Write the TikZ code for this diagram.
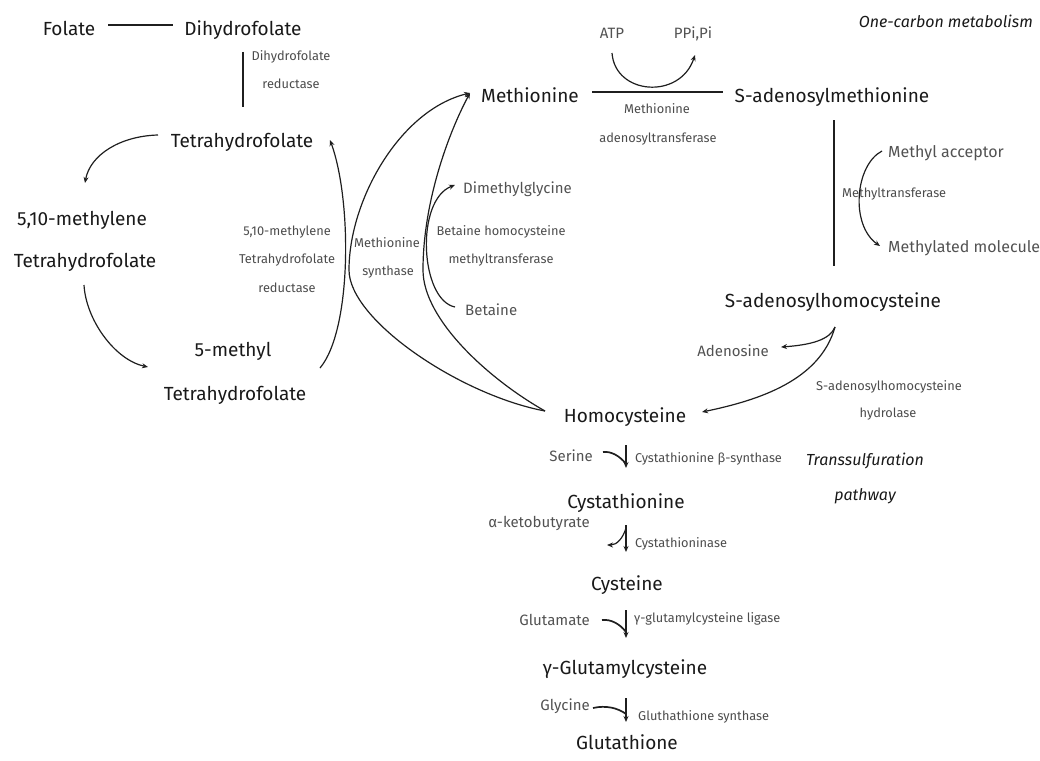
\documentclass[tikz,border=0pt]{standalone}
\usepackage{fontspec}
\setmainfont{Fira Sans}
\usetikzlibrary{arrows.meta}
\tikzset{
  every node/.style={inner sep=0pt, anchor=base},
  main/.style={font=\fontsize{19}{22}\selectfont, text=black!90},
  sub/.style={font=\fontsize{15}{18}\selectfont, text=black!68},
  subl/.style={font=\fontsize{16}{18}\selectfont, text=black!68},
  enz/.style={font=\fontsize{12.8}{14}\selectfont, text=black!70},
  note/.style={font=\itshape\fontsize{16}{18}\selectfont, text=black!90},
  conn/.style={draw=black!88, line width=1.2pt},
  arr/.style={conn, -{Stealth[length=6pt,width=5pt]}},
  branch/.style={draw=black!88, line width=1.7pt},
}
\begin{document}
\begin{tikzpicture}[x=1pt,y=-1pt]
\useasboundingbox (0,0) rectangle (1040,760);
% ---------------- folate cycle
\node[main] (fol) at (69,36) {Folate};
\node[main] (dhf) at (243,36) {Dihydrofolate};
\node[enz] (dhfr1) at (291,60) {Dihydrofolate};
\node[enz] (dhfr2) at (291,88) {reductase};
\node[main] (thf) at (242,147) {Tetrahydrofolate};
\node[main] (mla) at (82,225) {5,10-methylene};
\node[main] (mlb) at (85,267) {Tetrahydrofolate};
\node[main] (mta) at (233,356) {5-methyl};
\node[main] (mtb) at (235,400) {Tetrahydrofolate};
\node[enz] (mthfr1) at (287,235) {5,10-methylene};
\node[enz] (mthfr2) at (287,263) {Tetrahydrofolate};
\node[enz] (mthfr3) at (287,292) {reductase};
\node[enz] (ms1) at (387,247) {Methionine};
\node[enz] (ms2) at (388,275) {synthase};
% ---------------- methionine cycle
\node[sub, anchor=base west] (dmg) at (463,193) {Dimethylglycine};
\node[enz] (bhmt1) at (501,235) {Betaine homocysteine};
\node[enz] (bhmt2) at (501,263) {methyltransferase};
\node[sub, anchor=base west] (bet) at (465,315) {Betaine};
\node[main] (met) at (530,102) {Methionine};
\node[sub] (atp) at (612,38) {ATP};
\node[sub] (ppi) at (693,38) {PPi,Pi};
\node[enz] (mat1) at (657,113) {Methionine};
\node[enz] (mat2) at (658,142) {adenosyltransferase};
\node[main] (sam) at (832,102) {S-adenosylmethionine};
\node[note, anchor=base east] (title) at (1033,28) {One-carbon metabolism};
\node[subl, anchor=base west] (macc) at (888,157) {Methyl acceptor};
\node[enz, anchor=base west] (mt) at (842,197) {Methyltransferase};
\node[subl, anchor=base west] (mmol) at (888,252) {Methylated molecule};
\node[main] (sah) at (833,307) {S-adenosylhomocysteine};
\node[sub, anchor=base east] (ado) at (769,356) {Adenosine};
\node[enz] (sahh1) at (889,390) {S-adenosylhomocysteine};
\node[enz] (sahh2) at (888,417) {hydrolase};
\node[main] (hcy) at (625,422) {Homocysteine};
% ---------------- transsulfuration
\node[sub, anchor=base east] (ser) at (593,461) {Serine};
\node[enz, anchor=base west] (cbs) at (635,462) {Cystathionine β-synthase};
\node[note] (ts1) at (865,465) {Transsulfuration};
\node[note] (ts2) at (865,500) {pathway};
\node[main] (cysta) at (626,508) {Cystathionine};
\node[sub, anchor=base east] (akb) at (590,527) {α-ketobutyrate};
\node[enz, anchor=base west] (cgl) at (635,547) {Cystathioninase};
\node[main] (cys) at (627,590) {Cysteine};
\node[sub, anchor=base east] (glu) at (590,625) {Glutamate};
\node[enz, anchor=base west] (gcl) at (634,622) {γ-glutamylcysteine ligase};
\node[main] (gglu) at (625,674) {γ-Glutamylcysteine};
\node[sub, anchor=base east] (gly) at (590,710) {Glycine};
\node[enz, anchor=base west] (gs) at (638,720) {Gluthathione synthase};
\node[main] (gsh) at (627,749) {Glutathione};
% ---------------- connectors
\draw[conn] ([shift={(39,-11)}]fol.base) -- ([shift={(-70,-11)}]dhf.base);
\draw[conn] ([shift={(0,16)}]dhf.base) -- ([shift={(1,-40)}]thf.base);
\draw[arr] ([shift={(-84,-12)}]thf.base) .. controls (120,136) and (90,155) .. ([shift={(3,-42)}]mla.base);
\draw[arr] ([shift={(-1,18)}]mlb.base) .. controls (86,320) and (115,360) .. ([shift={(-85,11)}]mta.base);
\draw[arr] ([shift={(87,12)}]mta.base) .. controls (352,330) and (352,200) .. ([shift={(88,-7)}]thf.base);
% methionine synthase and BHMT
\draw[arr] ([shift={(-80,-11)}]hcy.base) .. controls (460,395) and (349,320) .. (349,270)
   .. controls (349,200) and (400,110) .. ([shift={(-60,-9)}]met.base);
\draw[arr] ([shift={(-80,-11)}]hcy.base) .. controls (490,380) and (423,320) .. (423,270)
   .. controls (423,200) and (450,130) .. ([shift={(-60,-9)}]met.base);
\draw[arr] ([shift={(-10,-8)}]bet.base west) .. controls (420,300) and (415,200) .. ([shift={(-8,-8)}]dmg.base west);
% MAT
\draw[conn] ([shift={(62,-10)}]met.base) -- ([shift={(-109,-10)}]sam.base);
\draw[arr] ([shift={(0,15)}]atp.base) .. controls (615,95) and (680,100) .. ([shift={(2,17)}]ppi.base);
% methyltransferase
\draw[conn] ([shift={(2,18)}]sam.base) -- ([shift={(1,-41)}]sah.base);
\draw[arr] ([shift={(-6,-6)}]macc.base west) .. controls (855,165) and (850,225) .. ([shift={(-8,-6)}]mmol.base west);
% SAH hydrolase
\draw[arr] ([shift={(2,20)}]sah.base) .. controls (830,340) and (810,345) .. ([shift={(12,-9)}]ado.base east);
\draw[arr] ([shift={(2,20)}]sah.base) .. controls (820,380) and (760,400) .. ([shift={(77,-10)}]hcy.base);
% transsulfuration
\draw[arr] ([shift={(1,23)}]hcy.base) -- ([shift={(0,-40)}]cysta.base);
\draw[branch] ([shift={(10,-9)}]ser.base east) .. controls (611,451) and (620,456) .. ([shift={(0,-44)}]cysta.base);
\draw[arr] ([shift={(0,17)}]cysta.base) -- ([shift={(-1,-38)}]cys.base);
\draw[arr] ([shift={(0,20)}]cysta.base) .. controls (623,538) and (617,545) .. ([shift={(17,18)}]akb.base east);
\draw[arr] ([shift={(-1,20)}]cys.base) -- ([shift={(1,-36)}]gglu.base);
\draw[branch] ([shift={(12,-5)}]glu.base east) .. controls (611,619) and (620,624) .. ([shift={(1,-42)}]gglu.base);
\draw[arr] ([shift={(1,24)}]gglu.base) -- ([shift={(-1,-27)}]gsh.base);
\draw[branch] ([shift={(3,-2)}]gly.base east) .. controls (606,705) and (618,708) .. ([shift={(-1,-35)}]gsh.base);
\end{tikzpicture}
\end{document}
